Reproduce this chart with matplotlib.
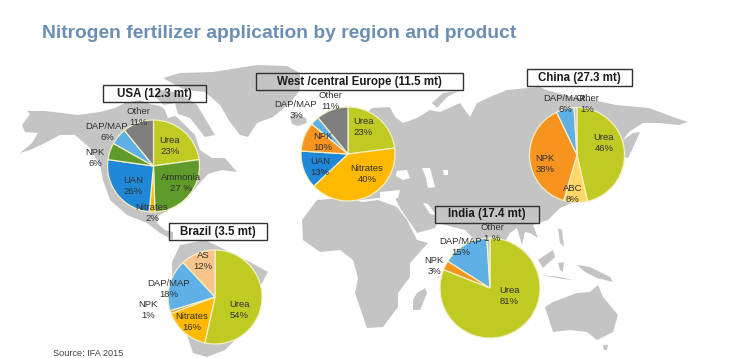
import matplotlib
matplotlib.use("Agg")
import matplotlib.pyplot as plt
from matplotlib.patches import Polygon, Rectangle

plt.rcParams['font.family'] = ['Liberation Sans', 'DejaVu Sans']

W, H = 733, 358

# shares, clockwise from 12 o'clock
usa_names = ["Urea", "Ammonia", "Nitrates", "UAN", "NPK", "DAP/MAP", "Other"]
usa_values = [23, 27, 2, 26, 6, 6, 11]
europe_names = ["Urea", "Nitrates", "UAN", "NPK", "DAP/MAP", "Other"]
europe_values = [23, 40, 13, 10, 3, 11]
china_names = ["Urea", "ABC", "NPK", "DAP/MAP", "Other"]
china_values = [46, 8, 38, 6, 1]
india_names = ["Urea", "NPK", "DAP/MAP", "Other"]
india_values = [81, 3, 15, 1]
brazil_names = ["Urea", "Nitrates", "NPK", "DAP/MAP", "AS"]
brazil_values = [54, 16, 1, 18, 12]

UREA = "#bfca22"
GREEN = "#5f9b2a"
YELLOW = "#ffb900"
BLUE = "#1f88d8"
SKY = "#5fb0e6"
GREY = "#7f7f7f"
ORANGE = "#f7941f"

usa_colors = [UREA, GREEN, YELLOW, BLUE, GREEN, SKY, GREY]
europe_colors = [UREA, YELLOW, BLUE, ORANGE, SKY, GREY]
china_colors = [UREA, "#ffd766", ORANGE, SKY, "#c8c8c8"]
india_colors = [UREA, ORANGE, SKY, "#c8c8c8"]
brazil_colors = [UREA, YELLOW, "#d99a5a", SKY, "#f8c48c"]

# pie layout in pixels: title, box, centre, radius, label centres
pies = [
    dict(title="USA (12.3 mt)", box=(103, 85, 206, 102), c=(153.5, 166), r=46,
         names=usa_names, values=usa_values, colors=usa_colors,
         pos=[(170, 146), (181, 183), (152, 213), (133, 186), (95, 158), (107, 132), (138, 117)]),
    dict(title="West /central Europe (11.5 mt)", box=(256, 73, 463, 90), c=(348, 154), r=47,
         names=europe_names, values=europe_values, colors=europe_colors,
         pos=[(363, 127), (367, 174), (320, 167), (323, 142), (296, 110), (330, 101)]),
    dict(title="China (27.3 mt)", box=(527, 69, 632, 86), c=(577, 155), r=47.5,
         names=china_names, values=china_values, colors=china_colors,
         pos=[(604, 143), (573, 194), (545, 164), (565, 104), (587, 104)]),
    dict(title="India (17.4 mt)", box=(435, 206, 539, 223), c=(490, 288), r=50,
         names=india_names, values=india_values, colors=india_colors,
         pos=[(509, 296), (434, 266), (461, 247), (492, 233)]),
    dict(title="Brazil (3.5 mt)", box=(169, 223, 267, 240), c=(215, 297), r=47,
         names=brazil_names, values=brazil_values, colors=brazil_colors,
         pos=[(239, 310), (192, 322), (148, 310), (169, 289), (203, 261)]),
]
spaced = [("USA (12.3 mt)", "Ammonia"), ("India (17.4 mt)", "Other")]

# background map, traced roughly in pixels
land = [
    # north america
    [(22, 125), (30, 114), (27, 111), (45, 111), (62, 113), (78, 115), (100, 112), (115, 108), (125, 103),
     (140, 100), (150, 104), (160, 106), (178, 118), (195, 135), (200, 150), (212, 158), (225, 158),
     (237, 172), (222, 170), (208, 174), (198, 185), (190, 195), (172, 208), (165, 212), (158, 216), (157, 223),
     (165, 230), (173, 232), (173, 240), (160, 233), (147, 223), (127, 215), (110, 200), (103, 180), (100, 165),
     (90, 148), (75, 135), (60, 135), (45, 143), (30, 150), (20, 153), (32, 143), (38, 133), (25, 132)],
    # arctic islands
    [(155, 97), (160, 90), (175, 92), (190, 100), (197, 105), (215, 135), (205, 137), (190, 118), (172, 112)],
    # greenland
    [(163, 78), (180, 73), (213, 72), (257, 65), (287, 66), (300, 73), (300, 90), (290, 103), (273, 117),
     (257, 123), (248, 137), (240, 135), (230, 122), (220, 105), (205, 92), (185, 90)],
    # iceland
    [(290, 117), (298, 115), (306, 118), (307, 123), (298, 126), (292, 124)],
    # south america
    [(172, 262), (180, 245), (205, 240), (250, 262), (268, 272), (262, 283), (250, 300), (245, 330),
     (225, 350), (207, 357), (193, 353), (187, 335), (172, 300)],
    # eurasia
    [(330, 195), (345, 202), (378, 198), (395, 198), (400, 208), (417, 233), (435, 228), (437, 223), (465, 230),
     (480, 245), (503, 245), (510, 233), (517, 228), (522, 245), (525, 232), (530, 233), (538, 238), (533, 225),
     (548, 220), (560, 208), (600, 190), (615, 150), (629, 132), (643, 123), (659, 123),
     (679, 125), (688, 122), (673, 117), (649, 108), (616, 105), (593, 100), (573, 97), (546, 90), (540, 87),
     (507, 90), (490, 97), (477, 103), (470, 117), (460, 103), (440, 112), (430, 110), (417, 118), (403, 123),
     (395, 117), (390, 107), (372, 108), (360, 120), (340, 150), (330, 175)],
    # japan
    [(623, 140), (633, 133), (640, 132), (632, 150), (628, 158), (625, 157)],
    # novaya zemlya
    [(432, 103), (443, 93), (458, 91), (447, 97), (437, 108)],
    # africa
    [(317, 200), (302, 220), (303, 240), (320, 252), (340, 250), (353, 260), (358, 278), (355, 293), (367, 328),
     (383, 327), (398, 307), (398, 293), (410, 277), (410, 263), (428, 243), (417, 240), (407, 220), (397, 207),
     (378, 200), (363, 202), (340, 198)],
    # madagascar
    [(425, 288), (427, 293), (420, 310), (413, 310), (413, 300), (417, 293)],
    # australia
    [(545, 307), (553, 302), (577, 293), (590, 292), (598, 285), (603, 297), (618, 315), (613, 332), (597, 340),
     (587, 332), (570, 330), (553, 332), (550, 323)],
    [(603, 345), (608, 345), (607, 350), (604, 350)],
    # islands of south east asia
    [(538, 260), (553, 250), (555, 257), (543, 268)],
    [(540, 275), (563, 279), (573, 280), (560, 277)],
    [(577, 265), (590, 267), (610, 277), (613, 282), (597, 278), (585, 272)],
    [(558, 263), (564, 262), (563, 272), (560, 270)],
    [(558, 228), (562, 230), (564, 247), (560, 243)],
]
seas = [
    [(397, 171), (407, 170), (410, 178), (403, 180), (396, 176)],
    [(422, 168), (430, 168), (435, 187), (428, 188), (426, 178)],
    [(443, 170), (448, 170), (448, 175), (444, 175)],
    [(380, 192), (400, 190), (398, 198), (380, 200)],
    [(423, 203), (428, 204), (436, 215), (430, 214)],
    [(163, 105), (175, 103), (178, 115), (168, 118)],
]

fig = plt.figure(figsize=(W / 100, H / 100), dpi=100, facecolor="white")
ax = fig.add_axes([0, 0, 1, 1])


def flip(pts):
    return [(x, H - y) for x, y in pts]


for pts in land:
    ax.add_patch(Polygon(flip(pts), closed=True, fc="#c4c4c4", ec="none", zorder=1))
for pts in seas:
    ax.add_patch(Polygon(flip(pts), closed=True, fc="white", ec="none", zorder=1.5))

for p in pies:
    ax.pie(p["values"], colors=p["colors"], startangle=90, counterclock=False,
           center=(p["c"][0], H - p["c"][1]), radius=p["r"],
           wedgeprops=dict(edgecolor="#f4efc4", linewidth=0.9, zorder=2))
    for name, val, (x, y) in zip(p["names"], p["values"], p["pos"]):
        sep = " " if (p["title"], name) in spaced else ""
        ax.text(x, H - y, f"{name}\n{val}{sep}%", ha="center", va="center", fontsize=6.8,
                color="#303030", linespacing=1.4, zorder=4)
    x0, y0, x1, y1 = p["box"]
    ax.add_patch(Rectangle((x0, H - y1), x1 - x0, y1 - y0, fc="none", ec="#303030", lw=1.0, zorder=3))
    ax.text((x0 + x1) / 2, H - (y0 + y1) / 2, p["title"], ha="center", va="center", fontsize=8.3,
            fontweight="bold", color="#1a1a1a", zorder=4)

ax.text(42, H - 33, "Nitrogen fertilizer application by region and product", ha="left", va="center",
        fontsize=13.9, fontweight="bold", color="#6b8fb4")
ax.text(53, H - 353, "Source: IFA 2015", ha="left", va="center", fontsize=6.6, color="#404040")

ax.set_xlim(0, W)
ax.set_ylim(0, H)
ax.axis("off")

plt.savefig("out.png", dpi=100)
